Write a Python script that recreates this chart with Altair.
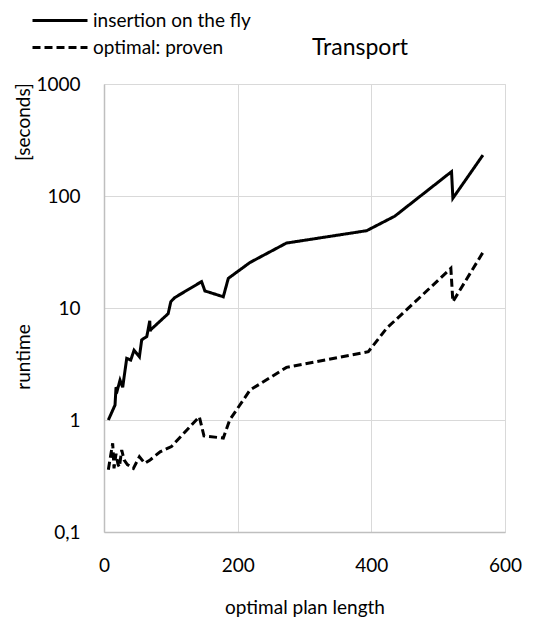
import altair as alt
import pandas as pd

# ---- data ----
series_names = ["insertion on the fly", "optimal: proven"]

fly_x = [6.5, 16.5, 18, 20, 24, 28, 30, 34, 40, 45, 53, 56.4, 64, 68.5, 69, 70,
         96, 100, 106, 146, 151, 178.5, 186, 218.5, 273, 393, 435, 520, 522, 567]
fly_y = [1.0, 1.36, 1.96, 1.85, 2.27, 1.96, 2.4, 3.55, 3.43, 4.2, 3.67, 5.2, 5.55, 7.7, 6.2, 6.4,
         8.9, 11.4, 12.4, 17.2, 14.2, 12.6, 18.4, 25.5, 38, 49, 66, 165, 95.5, 232]

opt_x = [6.5, 13, 15, 18, 21, 23, 26.5, 30, 35, 44, 53, 61, 69, 84, 101, 142.6, 149.6,
         178.5, 188, 218.5, 273, 395.5, 423, 463, 519, 522, 567.6]
opt_y = [0.36, 0.62, 0.37, 0.5, 0.4, 0.38, 0.54, 0.44, 0.4, 0.37, 0.47, 0.41, 0.44, 0.52, 0.58, 1.07, 0.72,
         0.69, 1.0, 1.85, 2.95, 4.07, 6.6, 11.0, 22.6, 11.4, 31.8]

x_ticks = [0, 200, 400, 600]
y_ticks = [0.1, 1, 10, 100, 1000]

rows = []
for i, (x, y) in enumerate(zip(fly_x, fly_y)):
    rows.append({"series": series_names[0], "length": x, "runtime": y, "order": i})
for i, (x, y) in enumerate(zip(opt_x, opt_y)):
    rows.append({"series": series_names[1], "length": x, "runtime": y, "order": i})
df = pd.DataFrame(rows)

FONT = "Lato"

lines = alt.Chart(df).mark_line(color="black", strokeWidth=3, strokeJoin="miter").encode(
    x=alt.X("length:Q",
            scale=alt.Scale(domain=[0, 600], nice=False, zero=False),
            axis=alt.Axis(values=x_ticks, title="optimal plan length", grid=True,
                          gridColor="#D9D9D9", gridWidth=1, domainColor="#BFBFBF", domainWidth=1.5,
                          ticks=False, labelFontSize=19, labelFont=FONT, labelColor="black",
                          labelPadding=24, labelFlush=False,
                          titleFontSize=19, titleFont=FONT, titleColor="black",
                          titleFontWeight="normal", titlePadding=23)),
    y=alt.Y("runtime:Q",
            scale=alt.Scale(type="log", domain=[0.1, 1000], nice=False),
            axis=alt.Axis(values=y_ticks, title=None, grid=True,
                          gridColor="#D9D9D9", gridWidth=1, domainColor="#BFBFBF", domainWidth=1.5,
                          ticks=False, labelFontSize=19, labelFont=FONT, labelColor="black",
                          labelPadding=24, labelFlush=False,
                          labelExpr="replace(toString(datum.value), '.', ',')")),
    strokeDash=alt.StrokeDash("series:N",
                              scale=alt.Scale(domain=series_names, range=[[1, 0], [8, 4]]),
                              legend=alt.Legend(title=None, orient="none", legendX=-73, legendY=-77,
                                                symbolType="stroke", symbolSize=3025,
                                                symbolStrokeWidth=3, symbolStrokeColor="black",
                                                clipHeight=27, rowPadding=0, padding=0,
                                                labelFontSize=19, labelFont=FONT, labelColor="black",
                                                labelOffset=4, labelLimit=400)),
    order="order:Q",
)

title_df = pd.DataFrame({"t": ["Transport"]})
title_txt = alt.Chart(title_df).mark_text(fontSize=23, font=FONT, color="black",
                                          align="left", baseline="alphabetic").encode(
    text="t:N", x=alt.value(208), y=alt.value(-29))

ylab_df = pd.DataFrame({"t": ["[seconds]"]})
ylab1 = alt.Chart(ylab_df).mark_text(fontSize=19, font=FONT, color="black", angle=270,
                                     align="center", baseline="middle").encode(
    text="t:N", x=alt.value(-80), y=alt.value(38))
ylab2_df = pd.DataFrame({"t": ["runtime"]})
ylab2 = alt.Chart(ylab2_df).mark_text(fontSize=19, font=FONT, color="black", angle=270,
                                      align="center", baseline="middle").encode(
    text="t:N", x=alt.value(-80), y=alt.value(273))

chart = alt.layer(lines, title_txt, ylab1, ylab2).properties(
    width=401, height=448,
    autosize=alt.AutoSizeParams(type="none"),
    padding={"left": 96, "top": 76, "right": 20, "bottom": 93},
).configure_view(stroke=None).configure(background="white")

chart.save("out.html", embed_options={"renderer": "svg", "actions": False})
